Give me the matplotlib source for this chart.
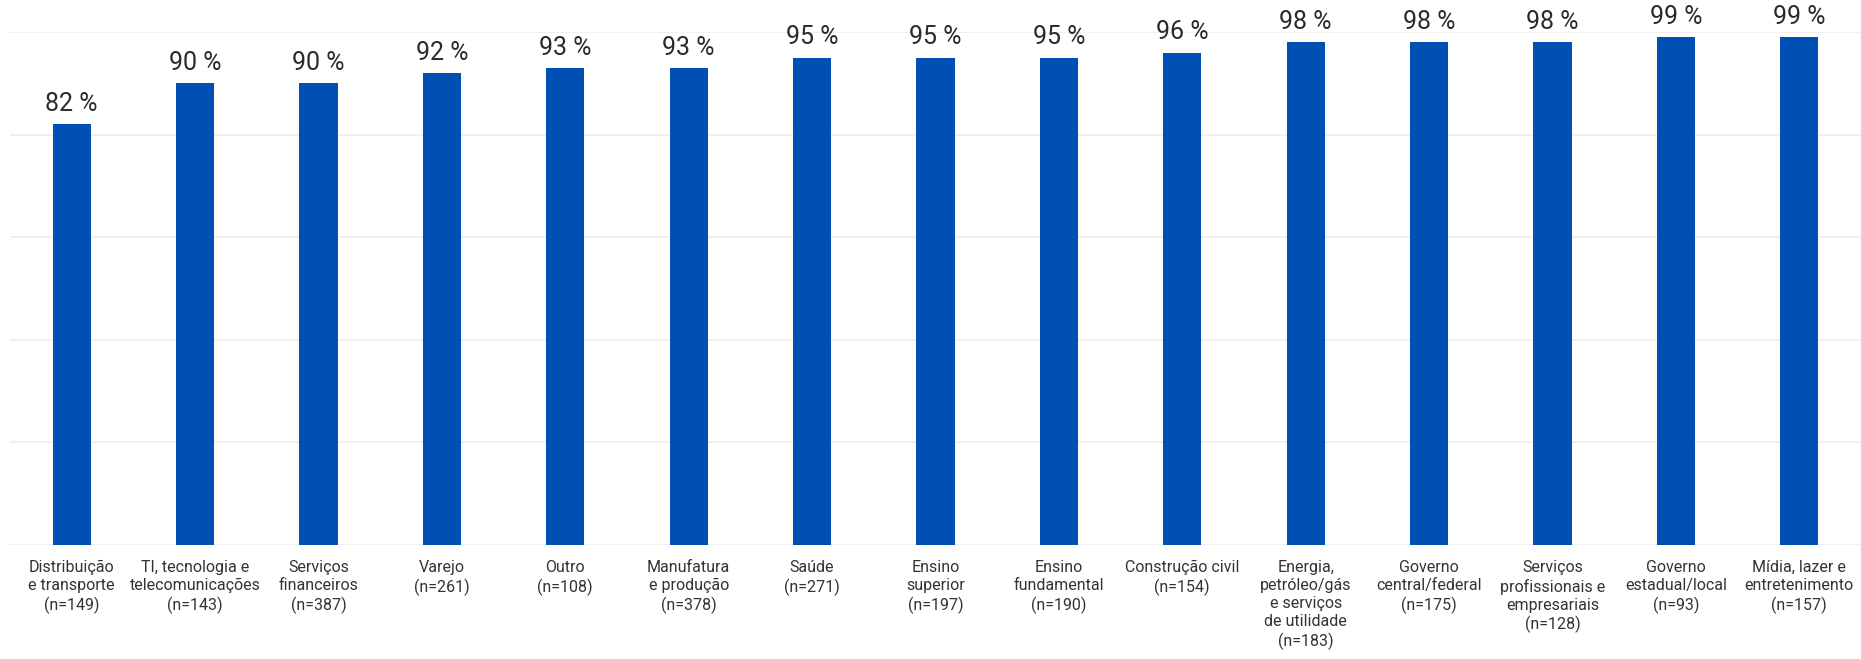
import matplotlib.pyplot as plt
import numpy as np

plt.rcParams['font.family'] = ['Roboto', 'DejaVu Sans']

setores = ["Distribuição\ne transporte", "TI, tecnologia e\ntelecomunicações",
           "Serviços\nfinanceiros", "Varejo", "Outro", "Manufatura\ne produção",
           "Saúde", "Ensino\nsuperior", "Ensino\nfundamental", "Construção civil",
           "Energia,\npetróleo/gás\ne serviços\nde utilidade", "Governo\ncentral/federal",
           "Serviços\nprofissionais e\nempresariais", "Governo\nestadual/local",
           "Mídia, lazer e\nentretenimento"]
amostras = [149, 143, 387, 261, 108, 378, 271, 197, 190, 154, 183, 175, 128, 93, 157]
percentuais = [82, 90, 90, 92, 93, 93, 95, 95, 95, 96, 98, 98, 98, 99, 99]

rotulos = [f"{s}\n(n={n})" for s, n in zip(setores, amostras)]

fig = plt.figure(figsize=(18.61, 6.59), dpi=100)
ax = fig.add_axes([10 / 1861, 114 / 659, 1851 / 1861, 513 / 659])

x = np.arange(len(percentuais))
ax.bar(x, percentuais, width=0.31, color="#0050B4", zorder=3)

for xi, v in zip(x, percentuais):
    ax.annotate(f"{v} %", (xi, v), xytext=(0, 6), textcoords="offset points",
                ha="center", va="bottom", fontsize=18, color="#2A2A2A")

ax.set_xlim(-0.5, len(percentuais) - 0.5)
ax.set_ylim(0, 100)
ax.set_yticks(range(0, 101, 20))
ax.set_yticklabels([])
ax.tick_params(axis="y", length=0)
ax.tick_params(axis="x", length=0, pad=11)
ax.set_xticks(x)
ax.set_xticklabels(rotulos, fontsize=11.5, color="#333333", linespacing=1.25)
ax.grid(axis="y", color="#EEEEEE", linewidth=1.2, zorder=0)
for s in ax.spines.values():
    s.set_visible(False)

fig.savefig("out.png", dpi=100)
